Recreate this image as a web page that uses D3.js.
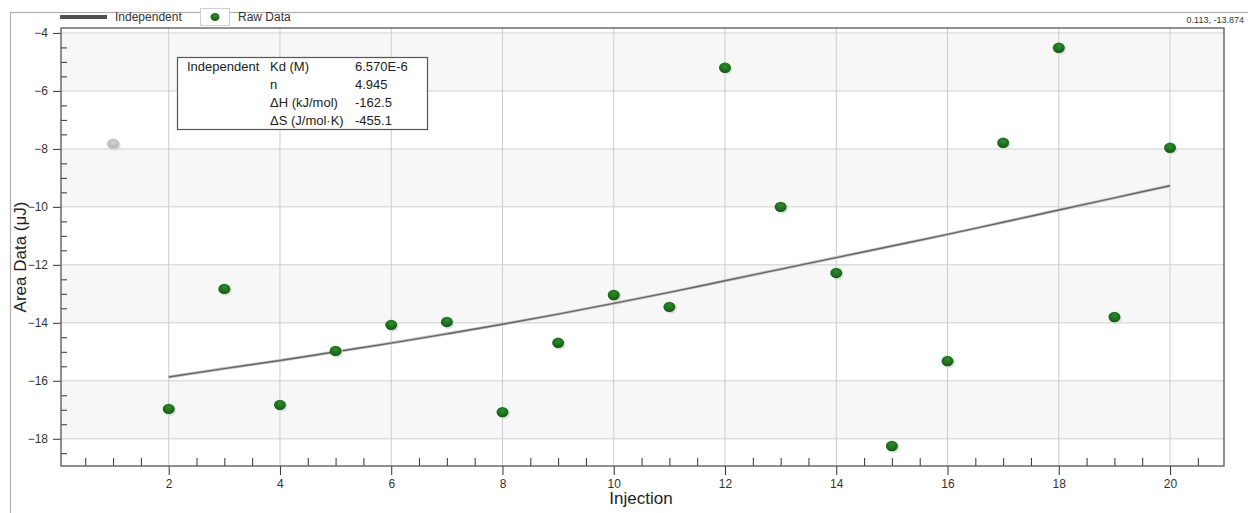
<!DOCTYPE html>
<html>
<head>
<meta charset="utf-8">
<script src="https://cdn.jsdelivr.net/npm/d3@7"></script>
<style>
  body { margin: 0; background: #fff; }
  svg { display: block; font-family: "Liberation Sans", Arial, sans-serif; }
</style>
</head>
<body>
<svg class="chart"></svg>
<script>
// Raw injection heats (first one is excluded from the fit, drawn grey)
var injections = [1, 2, 3, 4, 5, 6, 7, 8, 9, 10, 11, 12, 13, 14, 15, 16, 17, 18, 19, 20];
var rawArea = [-7.82, -16.97, -12.83, -16.83, -14.97, -14.07, -13.97, -17.08, -14.69, -13.04,
               -13.45, -5.20, -10.00, -12.28, -18.25, -15.32, -7.79, -4.51, -13.80, -7.96];
var excluded = [1];

// Independent model fit
var fitInjections = [2, 3, 4, 5, 6, 7, 8, 9, 10, 11, 12, 13, 14, 15, 16, 17, 18, 19, 20];
var fitArea = [-15.87, -15.58, -15.30, -15.00, -14.70, -14.38, -14.05, -13.70, -13.33, -12.95,
               -12.55, -12.15, -11.75, -11.35, -10.95, -10.53, -10.11, -9.69, -9.27];

// Axis ticks
var xMajor = [2, 4, 6, 8, 10, 12, 14, 16, 18, 20];
var yMajor = [-4, -6, -8, -10, -12, -14, -16, -18];
var xDomain = [0.064, 20.97];
var yDomain = [-18.94, -3.83];

// Fit results table
var fitLabels = ["Kd (M)", "n", "\u0394H (kJ/mol)", "\u0394S (J/mol\u00b7K)"];
var fitValues = ["6.570E-6", "4.945", "-162.5", "-455.1"];

var width = 1248, height = 513;
var plot = { left: 61, right: 1224, top: 28, bottom: 466 };

var svg = d3.select('.chart')
    .attr('width', width)
    .attr('height', height);

var defs = svg.append('defs');
var g1 = defs.append('radialGradient').attr('id', 'dotGreen')
    .attr('cx', '50%').attr('cy', '35%').attr('r', '65%');
g1.append('stop').attr('offset', '0%').attr('stop-color', '#2e8c2e');
g1.append('stop').attr('offset', '70%').attr('stop-color', '#1b6b1b');
g1.append('stop').attr('offset', '100%').attr('stop-color', '#125012');
var g2 = defs.append('radialGradient').attr('id', 'dotGrey')
    .attr('cx', '50%').attr('cy', '35%').attr('r', '65%');
g2.append('stop').attr('offset', '0%').attr('stop-color', '#d2d2d2');
g2.append('stop').attr('offset', '100%').attr('stop-color', '#b4b4b4');

var x = d3.scaleLinear().domain(xDomain).range([plot.left, plot.right]);
var y = d3.scaleLinear().domain(yDomain).range([plot.bottom, plot.top]);

// outer frame
svg.append('rect')
    .attr('x', 10.5).attr('y', 12.5)
    .attr('width', width + 20).attr('height', height + 20)
    .attr('fill', 'none').attr('stroke', '#b0b0b0').attr('stroke-width', 1.2);

// alternating bands
var bands = [[-6, -4], [-10, -8], [-14, -12], [-18, -16]];
svg.append('g').selectAll('rect')
    .data(bands)
  .enter().append('rect')
    .attr('x', plot.left)
    .attr('width', plot.right - plot.left)
    .attr('y', function(d) { return y(d[1]); })
    .attr('height', function(d) { return y(d[0]) - y(d[1]); })
    .attr('fill', '#f7f7f7');

// grid
svg.append('g').selectAll('line')
    .data(yMajor)
  .enter().append('line')
    .attr('x1', plot.left).attr('x2', plot.right)
    .attr('y1', function(d) { return y(d); })
    .attr('y2', function(d) { return y(d); })
    .attr('stroke', '#dedede').attr('stroke-width', 1.5);

svg.append('g').selectAll('line')
    .data(xMajor)
  .enter().append('line')
    .attr('y1', plot.top).attr('y2', plot.bottom)
    .attr('x1', function(d) { return x(d); })
    .attr('x2', function(d) { return x(d); })
    .attr('stroke', '#cccccc').attr('stroke-width', 1);

// axes
var xMinor = d3.range(0.5, 21, 0.5).filter(function(v) { return v % 2 !== 0; });
var yMinor = d3.range(-4.5, -19, -0.5).filter(function(v) { return v % 2 !== 0; });

function styleAxis(sel) {
  sel.select('.domain').remove();
  sel.selectAll('line').attr('stroke', '#333');
  sel.selectAll('text')
      .attr('fill', '#333')
      .attr('font-size', '12px')
      .attr('font-family', '"Liberation Sans", Arial, sans-serif');
}

svg.append('g')
    .attr('transform', 'translate(0,' + plot.bottom + ')')
    .call(d3.axisBottom(x).tickValues(xMajor).tickSize(9).tickPadding(4).tickFormat(d3.format('d')))
    .call(styleAxis);

svg.append('g')
    .attr('transform', 'translate(0,' + plot.bottom + ')')
    .call(d3.axisTop(x).tickValues(xMinor).tickSize(8).tickFormat(''))
    .call(styleAxis);

svg.append('g')
    .attr('transform', 'translate(' + plot.left + ',0)')
    .call(d3.axisLeft(y).tickValues(yMajor).tickSize(8).tickPadding(5).tickFormat(d3.format('d')))
    .call(styleAxis);

svg.append('g')
    .attr('transform', 'translate(' + plot.left + ',0)')
    .call(d3.axisRight(y).tickValues(yMinor).tickSize(6).tickFormat(''))
    .call(styleAxis);

// plot border
svg.append('rect')
    .attr('x', plot.left).attr('y', plot.top)
    .attr('width', plot.right - plot.left)
    .attr('height', plot.bottom - plot.top)
    .attr('fill', 'none').attr('stroke', '#555').attr('stroke-width', 1.3);

// fit line
var line = d3.line()
    .x(function(d) { return x(d[0]); })
    .y(function(d) { return y(d[1]); })
    .curve(d3.curveMonotoneX);
var fitData = d3.zip(fitInjections, fitArea);
svg.append('path')
    .datum(fitData)
    .attr('d', line)
    .attr('fill', 'none').attr('stroke', '#c4c4c4').attr('stroke-width', 3);
svg.append('path')
    .datum(fitData)
    .attr('d', line)
    .attr('fill', 'none').attr('stroke', '#666').attr('stroke-width', 1.4);

// raw data points
var pts = svg.append('g').selectAll('g')
    .data(d3.zip(injections, rawArea))
  .enter().append('g')
    .attr('transform', function(d) { return 'translate(' + x(d[0]) + ',' + y(d[1]) + ')'; });
pts.append('ellipse')
    .attr('cx', 1.5).attr('cy', 1.5).attr('rx', 6).attr('ry', 5.4)
    .attr('fill', '#d6d6d6').attr('opacity', 0.8);
pts.append('ellipse')
    .attr('rx', 6).attr('ry', 5.2)
    .attr('fill', function(d) { return excluded.indexOf(d[0]) >= 0 ? 'url(#dotGrey)' : 'url(#dotGreen)'; });

// legend
var legend = svg.append('g');
legend.append('line')
    .attr('x1', 60).attr('x2', 107).attr('y1', 17).attr('y2', 17)
    .attr('stroke', '#505050').attr('stroke-width', 4);
legend.append('text')
    .attr('x', 115).attr('y', 21)
    .attr('font-size', '12px').attr('fill', '#333')
    .text('Independent');
legend.append('rect')
    .attr('x', 200.5).attr('y', 8.5).attr('width', 29).attr('height', 17)
    .attr('fill', '#fff').attr('stroke', '#cfcfcf');
legend.append('ellipse')
    .attr('cx', 215).attr('cy', 17).attr('rx', 4.5).attr('ry', 4)
    .attr('fill', 'url(#dotGreen)');
legend.append('text')
    .attr('x', 238).attr('y', 21)
    .attr('font-size', '12px').attr('fill', '#333')
    .text('Raw Data');

// cursor readout
svg.append('text')
    .attr('x', 1244).attr('y', 23)
    .attr('text-anchor', 'end')
    .attr('font-size', '9px').attr('fill', '#333')
    .text('0.113, -13.874');

// fit results box
var box = svg.append('g');
box.append('rect')
    .attr('x', 177.5).attr('y', 57.5).attr('width', 250).attr('height', 72)
    .attr('fill', '#fff').attr('stroke', '#555').attr('stroke-width', 1.2);
box.append('text')
    .attr('x', 187).attr('y', 70.5)
    .attr('font-size', '13px').attr('fill', '#222')
    .text('Independent');
box.selectAll('.lab')
    .data(fitLabels)
  .enter().append('text')
    .attr('class', 'lab')
    .attr('x', 270)
    .attr('y', function(d, i) { return 70.5 + i * 18.3; })
    .attr('font-size', '13px').attr('fill', '#222')
    .text(function(d) { return d; });
box.selectAll('.val')
    .data(fitValues)
  .enter().append('text')
    .attr('class', 'val')
    .attr('x', 355)
    .attr('y', function(d, i) { return 70.5 + i * 18.3; })
    .attr('font-size', '13px').attr('fill', '#222')
    .text(function(d) { return d; });

// axis titles
svg.append('text')
    .attr('x', 641).attr('y', 504)
    .attr('text-anchor', 'middle')
    .attr('font-size', '17px').attr('fill', '#222')
    .text('Injection');
svg.append('text')
    .attr('transform', 'translate(26,257) rotate(-90)')
    .attr('text-anchor', 'middle')
    .attr('font-size', '17px').attr('fill', '#222')
    .text('Area Data (\u03bcJ)');
</script>
</body>
</html>
